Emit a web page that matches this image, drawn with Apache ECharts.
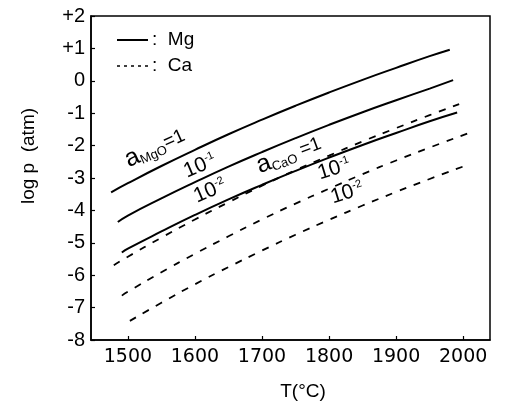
<!DOCTYPE html>
<html>
<head>
<meta charset="utf-8">
<script src="https://cdn.jsdelivr.net/npm/echarts@6/dist/echarts.min.js"></script>
<style>
html,body{margin:0;padding:0;background:#fff;}
#chart{width:514px;height:403px;}
</style>
</head>
<body>
<div id="chart"></div>
<script>
// Temperature ticks (°C)
var xTicks = [1500, 1600, 1700, 1800, 1900, 2000];
// log p (atm) ticks
var yTicks = [2, 1, 0, -1, -2, -3, -4, -5, -6, -7, -8];

// Mg curves (solid)
var mgT1 = [1475, 1500, 1550, 1600, 1650, 1700, 1750, 1800, 1850, 1900, 1950, 1980];
var mgP1 = [-3.44, -3.16, -2.63, -2.13, -1.65, -1.20, -0.77, -0.36, 0.03, 0.40, 0.76, 0.96];
var mgT2 = [1485, 1500, 1550, 1600, 1650, 1700, 1750, 1800, 1850, 1900, 1950, 1985];
var mgP2 = [-4.36, -4.16, -3.63, -3.13, -2.65, -2.20, -1.77, -1.36, -0.97, -0.60, -0.24, 0.02];
var mgT3 = [1491, 1500, 1550, 1600, 1650, 1700, 1750, 1800, 1850, 1900, 1950, 1991];
var mgP3 = [-5.30, -5.18, -4.65, -4.14, -3.66, -3.21, -2.78, -2.37, -1.98, -1.61, -1.25, -0.98];

// Ca curves (dashed)
var caT1 = [1479, 1500, 1550, 1600, 1650, 1700, 1750, 1800, 1850, 1900, 1950, 1994];
var caP1 = [-5.69, -5.43, -4.84, -4.28, -3.75, -3.24, -2.76, -2.31, -1.87, -1.46, -1.06, -0.72];
var caT2 = [1491, 1500, 1550, 1600, 1650, 1700, 1750, 1800, 1850, 1900, 1950, 2006];
var caP2 = [-6.63, -6.51, -5.91, -5.34, -4.80, -4.28, -3.79, -3.33, -2.88, -2.46, -2.06, -1.63];
var caT3 = [1503, 1550, 1600, 1650, 1700, 1750, 1800, 1850, 1900, 1950, 2006];
var caP3 = [-7.41, -6.85, -6.28, -5.75, -5.24, -4.75, -4.29, -3.85, -3.43, -3.03, -2.60];

function pairs(t, p) { return t.map(function (v, i) { return [v, p[i]]; }); }

var FONT = 'Liberation Sans';
var chart = echarts.init(document.getElementById('chart'), null, {renderer: 'canvas'});

function solid(name, t, p) {
  return {name: name, type: 'line', data: pairs(t, p), smooth: true, symbol: 'none',
    lineStyle: {color: '#000', width: 2, type: 'solid'}, silent: true};
}
function dashed(name, t, p) {
  return {name: name, type: 'line', data: pairs(t, p), smooth: true, symbol: 'none',
    lineStyle: {color: '#000', width: 1.8, type: [7, 8]}, silent: true};
}

var option = {
  backgroundColor: '#fff',
  animation: false,
  grid: {left: 91, right: 24, top: 16, bottom: 63, show: true, borderColor: '#000', borderWidth: 1.5, containLabel: false},
  xAxis: {
    type: 'value', min: 1445, max: 2040,
    axisLine: {show: true, onZero: false, lineStyle: {color: '#000', width: 1.5}},
    axisTick: {show: true, inside: true, length: 4, customValues: xTicks, lineStyle: {color: '#000', width: 1.2}},
    axisLabel: {customValues: xTicks, color: '#000', fontFamily: 'DejaVu Sans', fontSize: 19, margin: 8,
      formatter: function (v) { return String(v); }},
    splitLine: {show: false}
  },
  yAxis: {
    type: 'value', min: -8, max: 2, interval: 1,
    axisLine: {show: true, onZero: false, lineStyle: {color: '#000', width: 1.5}},
    axisTick: {show: true, inside: true, length: 4, lineStyle: {color: '#000', width: 1.2}},
    axisLabel: {color: '#000', fontFamily: FONT, fontSize: 20, margin: 6,
      formatter: function (v) { return v > 0 ? '+' + v : String(v); }},
    splitLine: {show: false}
  },
  series: [
    solid('Mg aMgO=1', mgT1, mgP1),
    solid('Mg 10^-1', mgT2, mgP2),
    solid('Mg 10^-2', mgT3, mgP3),
    dashed('Ca aCaO=1', caT1, caP1),
    dashed('Ca 10^-1', caT2, caP2),
    dashed('Ca 10^-2', caT3, caP3)
  ],
  graphic: [
    // axis titles
    {type: 'text', x: 29, y: 156, rotation: Math.PI / 2,
      style: {text: 'log p  (atm)', font: '19px "' + FONT + '"', fill: '#000', textAlign: 'center', textVerticalAlign: 'middle'}},
    {type: 'text', x: 303, y: 392,
      style: {text: 'T(°C)', font: '19px "' + FONT + '"', fill: '#000', textAlign: 'center', textVerticalAlign: 'middle'}},
    // legend
    {type: 'line', shape: {x1: 117, y1: 40, x2: 148, y2: 40}, style: {stroke: '#000', lineWidth: 2}},
    {type: 'text', x: 152, y: 40, style: {text: ':  Mg', font: '19px "' + FONT + '"', fill: '#000', textVerticalAlign: 'middle'}},
    {type: 'line', shape: {x1: 117, y1: 66, x2: 148, y2: 66}, style: {stroke: '#000', lineWidth: 1.5, lineDash: [3, 4]}},
    {type: 'text', x: 152, y: 66, style: {text: ':  Ca', font: '19px "' + FONT + '"', fill: '#000', textVerticalAlign: 'middle'}},
    // curve annotations
    {type: 'text', x: 155, y: 148, rotation: 0.42,
      style: {text: '{a|a}{s|MgO}{n|=1}', textAlign: 'center', textVerticalAlign: 'middle',
        rich: {a: {fontFamily: FONT, fontSize: 25, fill: '#000'}, s: {fontFamily: FONT, fontSize: 13, fill: '#000', verticalAlign: 'bottom', padding: [8, 0, 0, 0]}, n: {fontFamily: FONT, fontSize: 19, fill: '#000'}}}},
    {type: 'text', x: 200, y: 166, rotation: 0.40,
      style: {text: '{b|10}{p|-1}', textAlign: 'center', textVerticalAlign: 'middle',
        rich: {b: {fontFamily: FONT, fontSize: 21, fill: '#000'}, p: {fontFamily: FONT, fontSize: 11, fill: '#000', verticalAlign: 'top', padding: [0, 0, 10, 0]}}}},
    {type: 'text', x: 210, y: 191, rotation: 0.40,
      style: {text: '{b|10}{p|-2}', textAlign: 'center', textVerticalAlign: 'middle',
        rich: {b: {fontFamily: FONT, fontSize: 21, fill: '#000'}, p: {fontFamily: FONT, fontSize: 11, fill: '#000', verticalAlign: 'top', padding: [0, 0, 10, 0]}}}},
    {type: 'text', x: 289, y: 155, rotation: 0.36,
      style: {text: '{a|a}{s|CaO}{n| =1}', textAlign: 'center', textVerticalAlign: 'middle',
        rich: {a: {fontFamily: FONT, fontSize: 25, fill: '#000'}, s: {fontFamily: FONT, fontSize: 13, fill: '#000', verticalAlign: 'bottom', padding: [8, 0, 0, 0]}, n: {fontFamily: FONT, fontSize: 19, fill: '#000'}}}},
    {type: 'text', x: 334, y: 169, rotation: 0.30,
      style: {text: '{b|10}{p|-1}', textAlign: 'center', textVerticalAlign: 'middle',
        rich: {b: {fontFamily: FONT, fontSize: 21, fill: '#000'}, p: {fontFamily: FONT, fontSize: 11, fill: '#000', verticalAlign: 'top', padding: [0, 0, 10, 0]}}}},
    {type: 'text', x: 347, y: 193, rotation: 0.30,
      style: {text: '{b|10}{p|-2}', textAlign: 'center', textVerticalAlign: 'middle',
        rich: {b: {fontFamily: FONT, fontSize: 21, fill: '#000'}, p: {fontFamily: FONT, fontSize: 11, fill: '#000', verticalAlign: 'top', padding: [0, 0, 10, 0]}}}}
  ]
};
chart.setOption(option);
</script>
</body>
</html>
